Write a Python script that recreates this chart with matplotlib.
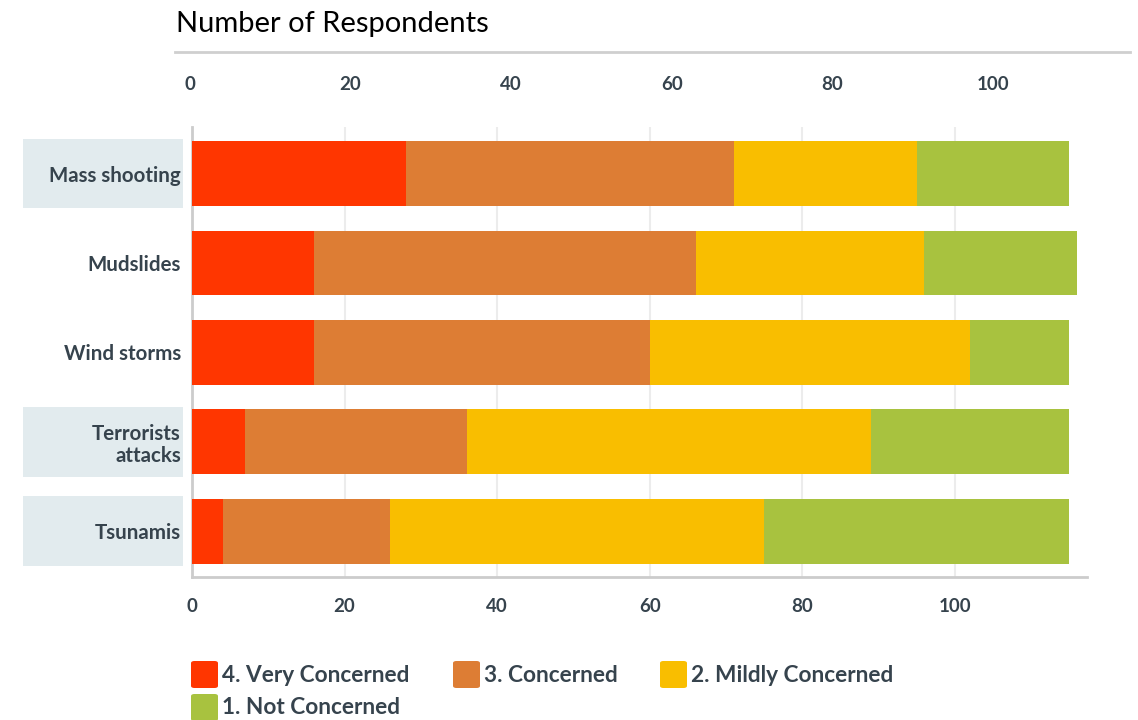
import matplotlib
matplotlib.use("Agg")
from matplotlib import pyplot as plt
from matplotlib.patches import Rectangle, FancyBboxPatch
from matplotlib import transforms

categories = ["Mass shooting", "Mudslides", "Wind storms", "Terrorists\nattacks", "Tsunamis"]
series_names = ["4. Very Concerned", "3. Concerned", "2. Mildly Concerned", "1. Not Concerned"]
very_concerned = [28, 16, 16, 7, 4]
concerned = [43, 50, 44, 29, 22]
mildly_concerned = [24, 30, 42, 53, 49]
not_concerned = [20, 20, 13, 26, 40]
ticks = [0, 20, 40, 60, 80, 100]

colors = ["#ff3600", "#dd7d34", "#f9be00", "#a8c23f"]
shaded = [True, False, False, True, True]
text_col = "#36434d"
W, H = 1138, 720

fig = plt.figure(figsize=(W / 100, H / 100), dpi=100)
ax = fig.add_axes([192 / W, 1 - 577 / H, 895 / W, 450 / H])

series = [very_concerned, concerned, mildly_concerned, not_concerned]
ypos = list(range(len(categories)))
left = [0] * len(categories)
for vals, c, name in zip(series, colors, series_names):
    ax.barh(ypos, vals, left=left, height=0.725, color=c, label=name, zorder=3)
    left = [l + v for l, v in zip(left, vals)]

ax.set_xlim(0, 117.3)
ax.set_ylim(4.51, -0.52)
ax.set_xticks(ticks)
ax.grid(axis="x", color="#ececec", lw=1.5, zorder=0)
for s in ["top", "right"]:
    ax.spines[s].set_visible(False)
for s in ["left", "bottom"]:
    ax.spines[s].set_color("#cccccc")
    ax.spines[s].set_linewidth(2)
ax.tick_params(axis="x", length=0, pad=15, labelsize=13.5, labelcolor=text_col)
for lab in ax.get_xticklabels():
    lab.set_fontfamily("Lato")
    lab.set_fontweight("bold")

# category labels with shaded boxes
ax.set_yticks(ypos)
ax.set_yticklabels(categories, fontsize=14.8, color=text_col, fontfamily="Lato",
                   fontweight="bold", linespacing=1.15)
ax.tick_params(axis="y", length=0, pad=8)
tr = transforms.blended_transform_factory(fig.transFigure, ax.transData)
for i, lab in enumerate(ax.get_yticklabels()):
    if shaded[i]:
        box = Rectangle((23 / W, i - 0.39), 160 / W, 0.78, transform=tr,
                        facecolor="#e2ebee", edgecolor="none", zorder=0)
        fig.add_artist(box)
        lab.set_clip_path(box)

# header with its own scale
axt = fig.add_axes([190 / W, 1 - 76 / H, 942 / W, 0.001])
axt.set_xlim(0, 117.3)
axt.set_xticks(ticks)
axt.set_yticks([])
for s in axt.spines.values():
    s.set_visible(False)
axt.patch.set_visible(False)
axt.tick_params(axis="x", length=0, pad=0, labelsize=13.5, labelcolor=text_col)
for lab in axt.get_xticklabels():
    lab.set_fontfamily("Lato")
    lab.set_fontweight("bold")

fig.text(176 / W, 1 - 24 / H, "Number of Respondents", fontsize=21, family="Lato",
         color="black", ha="left", va="center")
fig.add_artist(plt.Line2D([175 / W, 1130 / W], [1 - 52 / H, 1 - 52 / H],
                          color="#cfcfcf", lw=2, transform=fig.transFigure))

# legend
leg_pos = [(190, 675), (452, 675), (659, 675), (190, 708)]
for (lx, ly), c, name in zip(leg_pos, colors, series_names):
    sq = FancyBboxPatch(((lx + 1) / W, 1 - (ly + 13) / H), 27 / W, 27 / H,
                        boxstyle="round,pad=0,rounding_size=0.003",
                        transform=fig.transFigure, facecolor=c, edgecolor="none")
    fig.add_artist(sq)
    fig.text((lx + 32) / W, 1 - ly / H, name, fontsize=16.3, family="Lato",
             fontweight="bold", color=text_col, ha="left", va="center")

fig.savefig("out.png", dpi=100)
